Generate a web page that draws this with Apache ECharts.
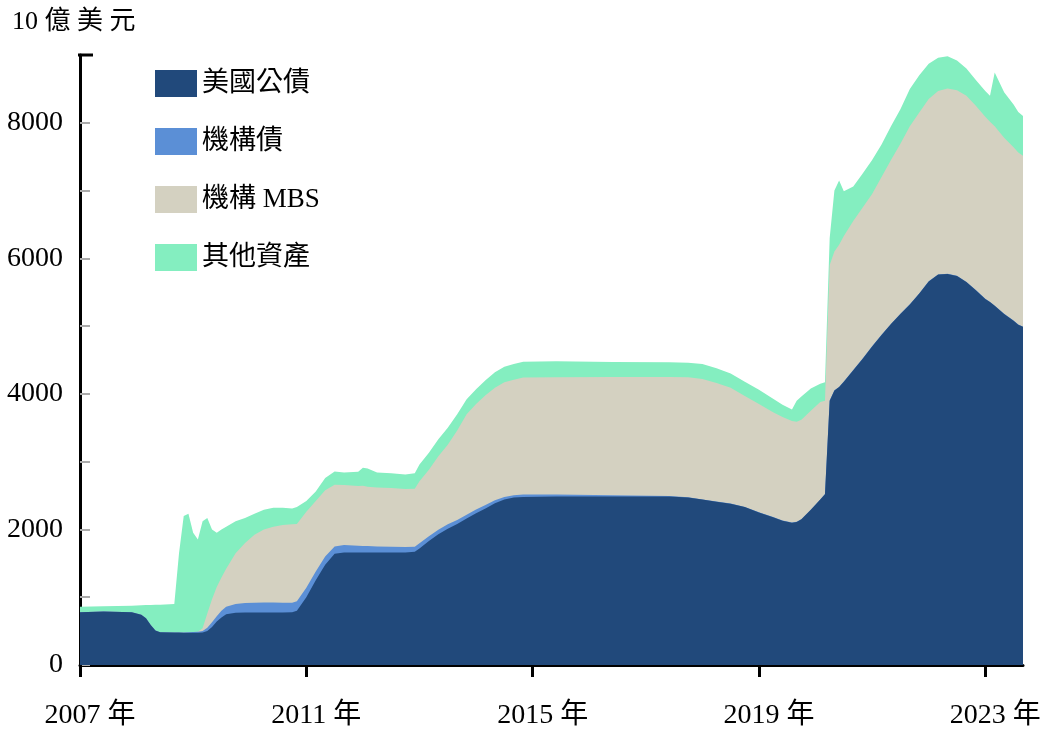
<!DOCTYPE html>
<html lang="zh-Hant">
<head>
    <meta charset="UTF-8">
    <title>聯準會資產負債表</title>
    <script src="https://cdn.jsdelivr.net/npm/echarts@6/dist/echarts.min.js"></script>
    <style>
        html, body { margin: 0; padding: 0; background: #fff; }
    </style>
</head>
<body>
<div id="main" style="width: 1048px;height: 733px"></div>

<script>
    // 月份
    var dates = [
        '2007-01','2007-06','2007-12','2008-02','2008-03','2008-04','2008-05','2008-06','2008-09',
        '2008-10','2008-11','2008-12','2009-01','2009-02','2009-03','2009-04','2009-05','2009-06','2009-07','2009-08','2009-10','2009-12',
        '2010-02','2010-04','2010-06','2010-08','2010-10','2010-11',
        '2011-01','2011-03','2011-05','2011-07','2011-09','2011-12','2012-01','2012-02','2012-04','2012-07','2012-10','2012-12',
        '2013-01','2013-03','2013-05','2013-07','2013-09','2013-11','2014-01','2014-03','2014-05','2014-07','2014-09','2014-11',
        '2015-06','2016-06','2017-06','2017-10','2018-01','2018-04','2018-07','2018-10','2019-01','2019-04','2019-06','2019-08','2019-09',
        '2019-10','2019-12','2020-02','2020-03','2020-04','2020-05','2020-06','2020-07','2020-09','2020-11',
        '2021-01','2021-03','2021-05','2021-07','2021-09','2021-11','2022-01','2022-03','2022-05','2022-07','2022-09','2022-11',
        '2023-01','2023-02','2023-03','2023-05','2023-07','2023-08','2023-09'
    ];

    // 10 億美元
    var treasury = [
        780, 790, 780, 740, 690, 590, 510, 485, 480,
        478, 476, 476, 476, 476, 478, 500, 560, 640, 700, 750, 770, 775,
        775, 775, 775, 775, 778, 800,
        1000, 1250, 1480, 1640, 1660, 1660, 1660, 1660, 1660, 1660, 1660, 1670,
        1720, 1830, 1930, 2010, 2080, 2160, 2240, 2310, 2385, 2440, 2470, 2480,
        2485, 2485, 2485, 2470, 2440, 2410, 2380, 2330, 2250, 2180, 2130, 2100, 2110,
        2150, 2290, 2440, 2520, 3900, 4050, 4100, 4180, 4350, 4520,
        4700, 4870, 5030, 5180, 5320, 5480, 5660, 5760, 5770, 5740, 5650, 5530,
        5400, 5355, 5300, 5180, 5080, 5020, 4990
    ];
    var agencyDebt = [
        0, 0, 0, 0, 0, 0, 0, 0, 0,
        3, 5, 8, 10, 15, 25, 50, 70, 80, 100, 110, 130, 140,
        145, 147, 147, 145, 140, 140,
        140, 130, 120, 110, 110, 100, 95, 95, 90, 85, 80, 75,
        75, 70, 65, 65, 60, 55, 55, 50, 45, 40, 35, 35,
        30, 20, 10, 5, 3, 2, 2, 2, 2, 2, 2, 2, 2,
        2, 2, 2, 2, 2, 2, 2, 2, 2, 2,
        2, 2, 2, 2, 2, 2, 2, 2, 2, 2, 2, 2,
        2, 2, 2, 2, 2, 2, 2
    ];
    var agencyMbs = [
        0, 0, 0, 0, 0, 0, 0, 0, 0,
        0, 0, 0, 0, 0, 40, 210, 340, 430, 490, 560, 750, 885,
        1000, 1078, 1118, 1145, 1157, 1140,
        1120, 1040, 980, 910, 885, 880, 890, 875, 870, 865, 855, 855,
        915, 980, 1085, 1175, 1320, 1485, 1555, 1620, 1660, 1690, 1705, 1725,
        1730, 1745, 1755, 1770, 1777, 1748, 1708, 1638, 1598, 1548, 1528, 1498, 1478,
        1468, 1458, 1438, 1378, 1998, 2048, 2098, 2148, 2198, 2228,
        2248, 2328, 2418, 2508, 2628, 2668, 2688, 2708, 2733, 2738, 2748, 2718,
        2688, 2658, 2648, 2598, 2558, 2538, 2523
    ];
    var otherAssets = [
        80, 78, 95, 142, 195, 297, 378, 405, 420,
        1169, 1719, 1746, 1464, 1359, 1577, 1410, 1030, 800, 710, 620, 470, 370,
        310, 290, 280, 255, 235, 250,
        160, 140, 180, 195, 185, 210, 265, 270, 220, 220, 215, 230,
        250, 250, 250, 250, 240, 220, 220, 220, 230, 230, 230, 235,
        235, 220, 215, 215, 220, 220, 210, 210, 210, 200, 180, 170, 310,
        340, 330, 270, 270, 400, 900, 950, 660, 510, 500,
        500, 480, 500, 510, 550, 550, 520, 490, 475, 440, 400, 380,
        380, 385, 790, 670, 630, 600, 585
    ];
    var seriesNames = ['美國公債', '機構債', '機構 MBS', '其他資產'];
    var seriesColors = ['#21497b', '#5b8fd6', '#d4d1c1', '#84eec0'];
    var yearTicks = [2007, 2011, 2015, 2019, 2023];

    var serif = '"Liberation Serif", "Times New Roman", "Noto Sans CJK TC", serif';

    // '2008-03' -> 小數年份
    function toYear(d) {
        var p = d.split('-');
        return Number(p[0]) + (Number(p[1]) - 1) / 12;
    }

    // 堆疊：每一層畫到 0，從最上層先畫，下層蓋在上面
    var allValues = [treasury, agencyDebt, agencyMbs, otherAssets];
    var sums = [];
    var running = dates.map(function () { return 0; });
    for (var i = 0; i < allValues.length; i++) {
        running = running.map(function (s, k) { return s + allValues[i][k]; });
        sums.push(running.slice());
    }

    var series = [];
    for (var j = allValues.length - 1; j >= 0; j--) {
        series.push({
            name: seriesNames[j],
            type: 'line',
            data: dates.map(function (d, k) { return [toYear(d), sums[j][k]]; }),
            showSymbol: false,
            symbol: 'none',
            lineStyle: { width: 0 },
            areaStyle: { color: seriesColors[j], opacity: 1, origin: 'start' },
            itemStyle: { color: seriesColors[j] }
        });
    }

    var chart = echarts.init(document.getElementById('main'));
    var option = {
        animation: false,
        title: {
            text: '10 億 美 元',
            left: 7,
            top: 4,
            textStyle: { fontFamily: serif, fontSize: 26, fontWeight: 'normal', color: '#000' }
        },
        legend: {
            orient: 'vertical',
            left: 150,
            top: 65,
            itemWidth: 42,
            itemHeight: 27,
            itemGap: 31,
            icon: 'rect',
            data: seriesNames,
            textStyle: { fontFamily: serif, fontSize: 27, color: '#000', lineHeight: 27 }
        },
        grid: { left: 80, right: 25, top: 55, bottom: 68 },
        xAxis: {
            type: 'value',
            min: 2007,
            max: 2023 + 8 / 12,
            interval: 4,
            axisLine: { lineStyle: { color: '#000', width: 3 } },
            axisTick: {
                customValues: yearTicks,
                length: 12,
                lineStyle: { color: '#000', width: 3 }
            },
            axisLabel: {
                customValues: yearTicks,
                margin: 37,
                padding: [0, 0, 0, 20],
                fontFamily: serif,
                fontSize: 28,
                color: '#000',
                formatter: function (v) {
                    return v % 1 === 0 ? v + ' 年' : '';
                }
            },
            splitLine: { show: false }
        },
        yAxis: {
            type: 'value',
            min: 0,
            max: 9000,
            interval: 1000,
            axisLine: { show: true, lineStyle: { color: '#000', width: 3 } },
            axisTick: { show: true, inside: true, length: 10, lineStyle: { color: '#aaa', width: 2 } },
            axisLabel: {
                margin: 17,
                fontFamily: serif,
                fontSize: 28,
                color: '#000',
                formatter: function (v) {
                    return (v % 2000 === 0 && v < 9000) ? String(v) : '';
                }
            },
            splitLine: { show: false }
        },
        series: series
    };
    chart.setOption(option);

    // y 軸頂端的短橫線
    var capY = chart.convertToPixel({ yAxisIndex: 0 }, 9000);
    var capX = chart.convertToPixel({ xAxisIndex: 0 }, 2007);
    chart.setOption({
        graphic: [{
            type: 'line',
            shape: { x1: capX - 2, y1: capY, x2: capX + 13, y2: capY },
            style: { stroke: '#000', lineWidth: 3 },
            z: 10
        }]
    });
</script>
</body>
</html>
